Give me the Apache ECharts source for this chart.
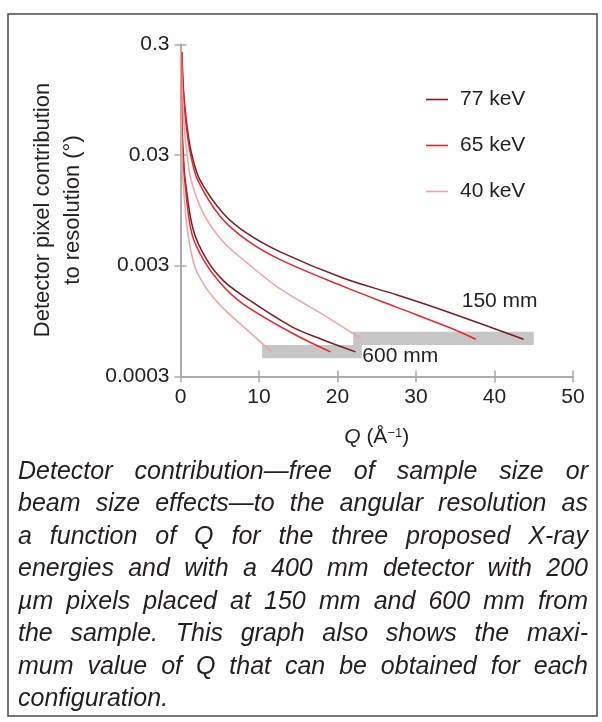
<!DOCTYPE html>
<html>
<head>
<meta charset="utf-8">
<script src="https://cdn.jsdelivr.net/npm/echarts@6/dist/echarts.min.js"></script>
<style>
  html, body { margin: 0; padding: 0; background: #fff; }
  .kk { width: 602px; height: 722px; }
</style>
</head>
<body>
<div class="kk"></div>
<script>
// Q (1/Å) , detector pixel contribution (deg)
var det150_77 = [[0.18, 0.255], [0.3, 0.15], [0.48, 0.094], [0.9, 0.05], [1.45, 0.030], [2.49, 0.0178], [5.46, 0.0089], [8.44, 0.0059], [12.7, 0.0040], [20.7, 0.00232], [27.6, 0.00163], [33.7, 0.00117], [43.7, 0.00065]];
var det150_65 = [[0.16, 0.255], [0.27, 0.15], [0.43, 0.094], [0.8, 0.05], [1.3, 0.030], [2.2, 0.0178], [5.04, 0.0084], [8.44, 0.0051], [12.7, 0.0034], [20.8, 0.00194], [27.6, 0.00126], [34.4, 0.00082], [37.6, 0.00065]];
var det150_40 = [[0.1, 0.255], [0.17, 0.15], [0.28, 0.094], [0.5, 0.05], [0.85, 0.030], [1.35, 0.0178], [2.91, 0.0089], [5.46, 0.0049], [8.44, 0.0032], [12.7, 0.00185], [18.2, 0.00108], [23.0, 0.00066]];
var det600_77 = [[0.045, 0.255], [0.07, 0.15], [0.11, 0.094], [0.21, 0.05], [0.36, 0.030], [0.6, 0.0178], [1.63, 0.0063], [3.34, 0.0034], [5.46, 0.0022], [8.44, 0.00152], [14.2, 0.00084], [18.2, 0.00064], [22.3, 0.0005]];
var det600_65 = [[0.037, 0.255], [0.063, 0.15], [0.1, 0.094], [0.19, 0.05], [0.32, 0.030], [0.53, 0.0178], [1.43, 0.0059], [2.91, 0.0034], [5.04, 0.0021], [7.81, 0.00138], [14.2, 0.00074], [19.1, 0.0005]];
var det600_40 = [[0.022, 0.255], [0.037, 0.15], [0.058, 0.094], [0.11, 0.05], [0.19, 0.030], [0.31, 0.0178], [0.93, 0.0059], [1.85, 0.0029], [3.13, 0.00195], [4.18, 0.00155], [5.68, 0.00119], [7.81, 0.00087], [11.6, 0.0005]];

// max Q ranges (grey bands): [Qstart, Qend, low, high]
var band150 = [22.0, 45.0, 0.000577, 0.00076];
var band600 = [10.4, 23.1, 0.000437, 0.000577];

var energies = ['77 keV', '65 keV', '40 keV'];
var xTickLabels = ['0', '10', '20', '30', '40', '50'];
var yTickLabels = ['0.0003', '0.003', '0.03', '0.3'];
var yBase = 0.0003;

var captionLines = [
    'Detector contribution\u2014free of sample size or',
    'beam size effects\u2014to the angular resolution as',
    'a function of Q for the three proposed X-ray',
    'energies and with a 400 mm detector with 200',
    '\u00b5m pixels placed at 150 mm and 600 mm from',
    'the sample. This graph also shows the maxi-',
    'mum value of Q that can be obtained for each',
    'configuration.'
];

(function(){
    var mychart = echarts.init(document.querySelector('.kk'), null, {renderer: 'canvas'});
    var FONT = '"Liberation Sans", Arial, sans-serif';
    var txt = '#231f20';
    var frame = '#a9a9a9';
    var colors = {'77 keV': '#7c1d22', '65 keV': '#e6262b', '40 keV': '#f4a2a2'};

    var toLog = function(v) { return Math.log10(v / yBase); };

    var curve = function(name, data) {
        return {
            name: name,
            type: 'line',
            data: data.map(function(p) { return [p[0], toLog(p[1])]; }),
            symbol: 'none',
            showSymbol: false,
            smooth: 0.35,
            z: 3,
            lineStyle: {color: colors[name], width: 1.5},
            itemStyle: {color: colors[name]}
        };
    };

    var band = function(b) {
        return [{coord: [b[0], toLog(b[3])]}, {coord: [b[1], toLog(b[2])]}];
    };

    // justified caption, one text per word
    var capFont = 'italic 25px ' + FONT;
    var ctx = document.createElement('canvas').getContext('2d');
    ctx.font = capFont;
    var capLeft = 18, capRight = 588, capTop = 472, capStep = 32.5;
    var caption = [];
    captionLines.forEach(function(line, i) {
        var words = line.split(' ');
        var w = words.map(function(s) { return ctx.measureText(s).width; });
        var total = w.reduce(function(a, b) { return a + b; }, 0);
        var gap = (i < captionLines.length - 1 && words.length > 1)
            ? (capRight - capLeft - total) / (words.length - 1)
            : ctx.measureText(' ').width;
        var x = capLeft;
        words.forEach(function(s, k) {
            caption.push({
                type: 'text', x: x, y: capTop + i * capStep, silent: true,
                style: {text: s, font: capFont, fill: txt, align: 'left', verticalAlign: 'middle'}
            });
            x += w[k] + gap;
        });
    });

    var axisCommon = {
        type: 'value',
        axisLine: {show: true, lineStyle: {color: frame, width: 1.5}},
        axisTick: {show: true, inside: true, length: 6, lineStyle: {color: frame, width: 1.5}},
        splitLine: {show: false}
    };

    var option = {
        animation: false,
        textStyle: {fontFamily: FONT},
        grid: {left: 180.5, right: 29, top: 44.3, bottom: 345.6},
        legend: {
            data: energies,
            orient: 'vertical',
            left: 426,
            top: 89,
            padding: 0,
            icon: 'rect',
            itemWidth: 22,
            itemHeight: 1.6,
            itemGap: 25,
            selectedMode: false,
            textStyle: {fontSize: 21, lineHeight: 21, color: txt, fontFamily: FONT, padding: [0, 0, 0, 7]}
        },
        xAxis: [
            Object.assign({}, axisCommon, {
                min: 0, max: 50, interval: 10, position: 'bottom',
                axisLabel: {
                    color: txt, fontSize: 21, fontFamily: FONT, margin: 10,
                    showMinLabel: true, showMaxLabel: true,
                    formatter: function(v) { return xTickLabels[Math.round(v / 10)]; }
                }
            }),
            Object.assign({}, axisCommon, {
                min: 0, max: 50, interval: 10, position: 'top',
                axisLabel: {show: false}
            })
        ],
        yAxis: [
            Object.assign({}, axisCommon, {
                min: 0, max: 3, interval: 1, position: 'left',
                axisLabel: {
                    color: txt, fontSize: 21, fontFamily: FONT, margin: 11,
                    showMinLabel: true, showMaxLabel: true,
                    formatter: function(v) { return yTickLabels[Math.round(v)]; }
                }
            }),
            Object.assign({}, axisCommon, {
                min: 0, max: 3, interval: 1, position: 'right',
                axisLabel: {show: false}
            })
        ],
        series: [
            {
                name: 'bands',
                type: 'line',
                data: [],
                z: 1,
                markArea: {
                    silent: true,
                    itemStyle: {color: '#c6c6c6', opacity: 1},
                    data: [band(band150), band(band600)]
                }
            },
            curve('77 keV', det150_77),
            curve('65 keV', det150_65),
            curve('40 keV', det150_40),
            curve('77 keV', det600_77),
            curve('65 keV', det600_65),
            curve('40 keV', det600_40)
        ],
        graphic: [
            {
                type: 'rect', silent: true,
                shape: {x: 8, y: 14, width: 589, height: 702},
                style: {fill: 'none', stroke: '#4a4a4a', lineWidth: 1.5}
            },
            {
                type: 'text', x: 43, y: 210, rotation: Math.PI / 2,
                style: {text: 'Detector pixel contribution', font: '22px ' + FONT, fill: txt, align: 'center', verticalAlign: 'middle'}
            },
            {
                type: 'text', x: 73, y: 210, rotation: Math.PI / 2,
                style: {text: 'to resolution (\u00b0)', font: '22px ' + FONT, fill: txt, align: 'center', verticalAlign: 'middle'}
            },
            {
                type: 'text', x: 376.7, y: 437,
                style: {
                    text: '{q|Q} (\u00c5{s|\u22121})',
                    font: '21px ' + FONT, fill: txt, align: 'center', verticalAlign: 'middle',
                    rich: {
                        q: {fontStyle: 'italic', fontSize: 21, fontFamily: FONT, fill: txt},
                        s: {fontSize: 13, fontFamily: FONT, fill: txt, verticalAlign: 'top'}
                    }
                }
            },
            {
                type: 'text', x: 461.7, y: 301.7,
                style: {text: '150 mm', font: '21px ' + FONT, fill: txt, align: 'left', verticalAlign: 'middle'}
            },
            {
                type: 'text', x: 362.3, y: 356.7,
                style: {text: '600 mm', font: '21px ' + FONT, fill: txt, align: 'left', verticalAlign: 'middle'}
            }
        ].concat(caption)
    };
    mychart.setOption(option);
})();
</script>
</body>
</html>
